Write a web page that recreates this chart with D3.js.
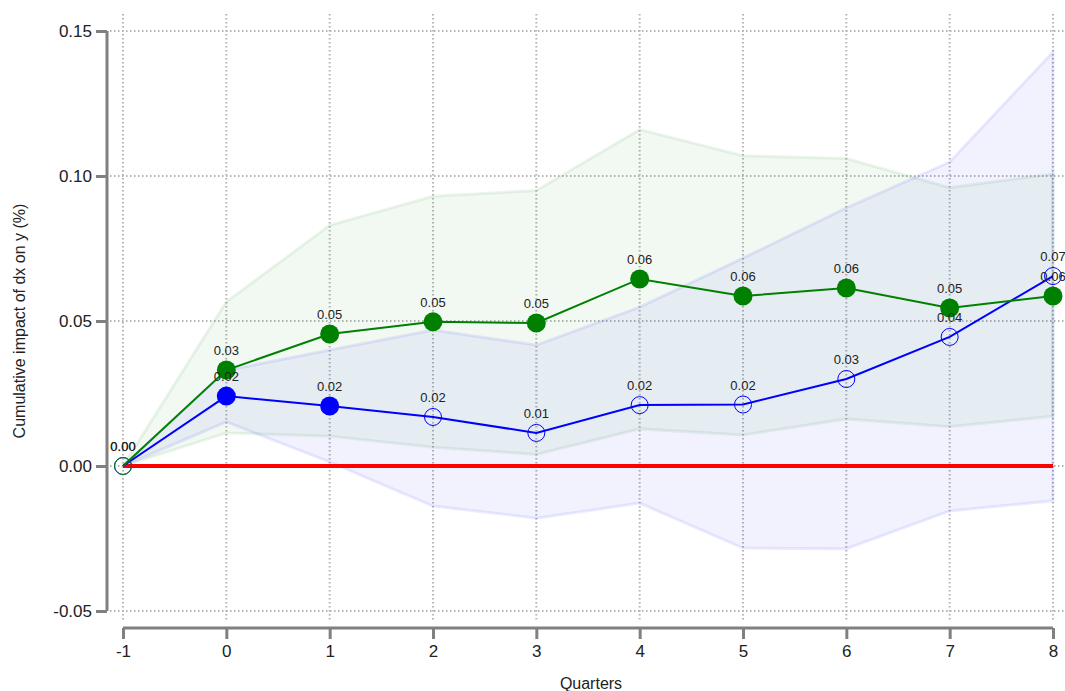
<!DOCTYPE html>
<html><head><meta charset="utf-8">
<script src="https://cdn.jsdelivr.net/npm/d3@7"></script>
<style>body{margin:0;background:#fff}svg{display:block;font-family:"Liberation Sans",Arial,sans-serif}</style>
</head><body><svg id="c" width="1065" height="691"></svg>
<script>
const quarters = [-1,0,1,2,3,4,5,6,7,8];
const greenEst = [0,0.0331,0.0455,0.0497,0.0493,0.0645,0.0586,0.0614,0.0545,0.0586];
const greenLo  = [0,0.0114,0.0103,0.0065,0.0040,0.0128,0.0107,0.0162,0.0135,0.0172];
const greenHi  = [0,0.0566,0.0830,0.0930,0.0950,0.1160,0.1070,0.1060,0.0960,0.1007];
const greenSig = [false,true,true,true,true,true,true,true,true,true];
const blueEst  = [0,0.0241,0.0207,0.0169,0.0114,0.0210,0.0212,0.0300,0.0445,0.0655];
const blueLo   = [0,0.0152,0.0014,-0.0138,-0.0180,-0.0128,-0.0283,-0.0285,-0.0155,-0.0120];
const blueHi   = [0,0.0330,0.0400,0.0469,0.0417,0.0548,0.0717,0.0890,0.1048,0.1428];
const blueSig  = [false,true,true,false,false,false,false,false,false,false];
const yTicks = [-0.05,0,0.05,0.10,0.15];
const yTitle = "Cumulative impact of dx on y (%)";
const xTitle = "Quarters";

const hy = s => s.replace("\u2212","-");
const svg = d3.select("#c");
const x = d3.scaleLinear().domain([-1,8]).range([123,1053]);
const y = d3.scaleLinear().domain([-0.05,0.15]).range([611,31]);

// grid
const g = svg.append("g");
g.selectAll("line.v").data(quarters).join("line")
  .attr("x1",d=>x(d)).attr("x2",d=>x(d)).attr("y1",14).attr("y2",621)
  .attr("stroke","#b4b4b4").attr("stroke-width",2).attr("stroke-dasharray","1.5,2.5");
g.selectAll("line.h").data(yTicks).join("line")
  .attr("x1",110).attr("x2",1065).attr("y1",d=>y(d)).attr("y2",d=>y(d))
  .attr("stroke","#b4b4b4").attr("stroke-width",2).attr("stroke-dasharray","1.5,2.5");

// bands
function band(lo,hi,col){
  const area = d3.area().x((d,i)=>x(quarters[i])).y0((d,i)=>y(lo[i])).y1((d,i)=>y(hi[i]));
  svg.append("path").datum(quarters).attr("d",area)
    .attr("fill",col).attr("fill-opacity",0.05)
    .attr("stroke",col).attr("stroke-opacity",0.08).attr("stroke-width",3);
}
band(greenLo,greenHi,"#008000");
band(blueLo,blueHi,"#0000ff");

// zero line
svg.append("line").attr("x1",x(-1)).attr("x2",x(8)).attr("y1",y(0)).attr("y2",y(0))
  .attr("stroke","#ff0000").attr("stroke-width",4);

function series(est,sig,col){
  const line = d3.line().x((d,i)=>x(quarters[i])).y(d=>y(d));
  svg.append("path").datum(est).attr("d",line).attr("fill","none").attr("stroke",col).attr("stroke-width",2);
  svg.append("g").selectAll("circle").data(est).join("circle")
    .attr("cx",(d,i)=>x(quarters[i])).attr("cy",d=>y(d))
    .attr("r",(d,i)=>sig[i]?9.5:8.5)
    .attr("fill",(d,i)=>sig[i]?col:"none")
    .attr("stroke",col).attr("stroke-width",(d,i)=>sig[i]?0:1);
}
series(blueEst,blueSig,"#0000ff");
series(greenEst,greenSig,"#008000");

function labels(est){
  svg.append("g").selectAll("text").data(est).join("text")
    .attr("x",(d,i)=>x(quarters[i])).attr("y",d=>y(d)-15)
    .attr("text-anchor","middle").attr("font-size",13).attr("fill","#222")
    .text(d=>d3.format(".2f")(d));
}
labels(blueEst);
labels(greenEst);

// axes
const ya = svg.append("g").attr("transform","translate(107,0)")
  .call(d3.axisLeft(y).tickValues(yTicks).tickFormat(d=>hy(d3.format(".2f")(d))).tickSize(11).tickPadding(4));
const xa = svg.append("g").attr("transform","translate(0,628)")
  .call(d3.axisBottom(x).tickValues(quarters).tickFormat(d=>hy(d3.format("d")(d))).tickSize(11).tickPadding(6));
[ya,xa].forEach(a=>{
  a.select(".domain").attr("stroke","#808080").attr("stroke-width",3);
  a.selectAll(".tick line").attr("stroke","#808080").attr("stroke-width",3);
  a.selectAll(".tick text").attr("font-size",17).attr("fill","#222").attr("font-family","Liberation Sans, Arial, sans-serif");
});
ya.select(".domain").attr("d","M0,31V611");
xa.select(".domain").attr("d","M123,0H1053");

svg.append("text").attr("x",591).attr("y",689).attr("text-anchor","middle")
  .attr("font-size",16).attr("fill","#222").text(xTitle);
svg.append("text").attr("transform","translate(25,321) rotate(-90)").attr("text-anchor","middle")
  .attr("font-size",16).attr("fill","#222").text(yTitle);
</script></body></html>
